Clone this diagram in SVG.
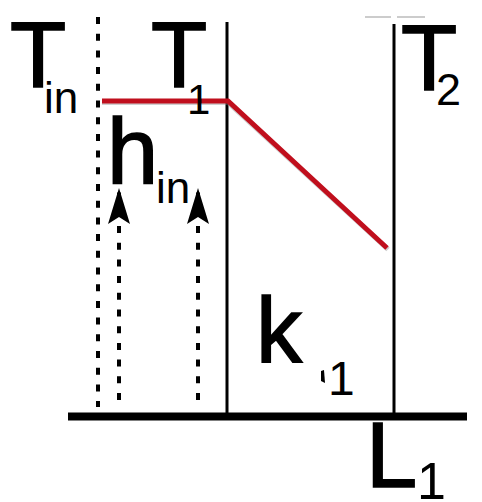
<svg xmlns="http://www.w3.org/2000/svg" width="482" height="502" viewBox="0 0 482 502">
<defs>
<style>
.t{font-family:"Liberation Sans",Arial,sans-serif;fill:#000}
.big{font-size:92px;stroke:#000;stroke-width:1.6}
.sub{font-size:44px}
.dot{stroke:#000;stroke-width:4;stroke-dasharray:7 9.7;fill:none}
.solid{stroke:#000;stroke-width:3;fill:none}
</style>
<marker id="ah" viewBox="0 0 36 22" refX="34" refY="11" markerWidth="36" markerHeight="22" markerUnits="userSpaceOnUse" orient="auto">
<path d="M36 11 L0 0 L7 11 L0 22 Z" fill="#000"/>
</marker>
</defs>
<rect width="482" height="502" fill="#fff"/>
<g id="connectors">
<line class="dot" x1="98" y1="17" x2="98" y2="407"/>
<line class="dot" x1="119" y1="400" x2="119" y2="190" marker-end="url(#ah)"/>
<line class="dot" x1="198" y1="400" x2="198" y2="190" marker-end="url(#ah)"/>
<line class="solid" x1="227" y1="22" x2="227" y2="414"/>
<line class="solid" x1="394" y1="24" x2="394" y2="414"/>
<line x1="365" y1="17" x2="391" y2="17" stroke="#999" stroke-width="1"/>
<line x1="397" y1="17" x2="425" y2="17" stroke="#999" stroke-width="1"/>
<rect x="68" y="412.5" width="399" height="8" fill="#000"/>
<polyline points="102,102.5 228,102.5 388,249.5" fill="none" stroke="#888" stroke-width="5" opacity="0.4"/>
<polyline points="102,101 228,101 387,248" fill="none" stroke="#c00f1d" stroke-width="5"/>
<path d="M321 371 L324 370 L325 383 L321 381 Z" fill="#000"/>
</g>
<g id="T_in"><text class="t big" x="10" y="87">T</text><text class="t sub" x="44" y="113">in</text></g>
<g id="T_1"><text class="t big" x="151" y="87">T</text><text class="t" font-size="42" x="187" y="114">1</text></g>
<g id="T_2"><text class="t big" stroke-width="3.5" x="401" y="90">T</text><text class="t" font-size="45" x="436" y="105">2</text></g>
<g id="h_in"><text class="t big" x="107" y="183">h</text><text class="t sub" x="156" y="203">in</text></g>
<g id="k_1"><text class="t big" x="256" y="362">k</text><text class="t" font-size="48" x="328" y="395">1</text></g>
<g id="L_1"><text class="t big" x="366" y="487">L</text><text class="t" font-size="52" x="417" y="499">1</text></g>
</svg>
